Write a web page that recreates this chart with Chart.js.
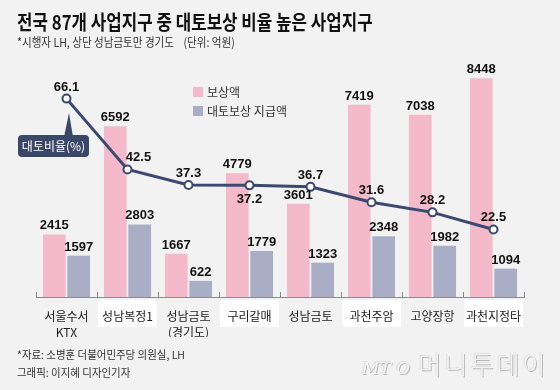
<!DOCTYPE html>
<html>
<head>
<meta charset="utf-8">
<script src="https://cdn.jsdelivr.net/npm/chart.js@4.4.0/dist/chart.umd.min.js"></script>
<style>
  html, body { margin: 0; padding: 0; }
  body { width: 560px; height: 390px; background: #f2f2f2; position: relative; overflow: hidden;
         font-family: "Noto Sans CJK KR", sans-serif; }
  #c { position: absolute; left: 0; top: 0; }
  .txt { position: absolute; white-space: pre; transform-origin: left top; }
  #title { left: 17px; top: 11px; font-size: 20px; line-height: 22px; font-weight: 700; color: #111; transform: scaleX(0.84); }
  #sub { left: 17px; top: 35px; font-size: 12px; line-height: 14px; color: #333; transform: scaleX(0.88); }
  #src1 { left: 17px; top: 348px; font-size: 11px; line-height: 13px; color: #333; transform: scaleX(0.95); }
  #src2 { left: 17px; top: 366px; font-size: 11px; line-height: 13px; color: #333; transform: scaleX(0.95); }
  #logo { left: 362px; top: 348px; font-size: 25px; line-height: 30px; color: #f4f4f4; font-weight: 300;
          letter-spacing: 3px; text-shadow: 1px 1px 0 #b8b8b8, -1px -1px 0 #e0e0e0; }
  #logo i { font-family: "DejaVu Serif", serif; font-size: 17px; letter-spacing: 0; }
</style>
</head>
<body>
<canvas id="c" width="560" height="390"></canvas>
<div class="txt" id="title">전국 87개 사업지구 중 대토보상 비율 높은 사업지구</div>
<div class="txt" id="sub">*시행자 LH, 상단 성남금토만 경기도    (단위: 억원)</div>
<div class="txt" id="src1">*자료: 소병훈 더불어민주당 의원실, LH</div>
<div class="txt" id="src2">그래픽: 이지혜 디자인기자</div>
<div class="txt" id="logo"><i>MT O</i> 머니투데이</div>
<script>
// 사업지구
const categories = [['서울수서', 'KTX'], '성남복정1', ['성남금토', '(경기도)'], '구리갈매', '성남금토', '과천주암', '고양장항', '과천지정타'];
// 보상액 (억원)
const compensation = [2415, 6592, 1667, 4779, 3601, 7419, 7038, 8448];
// 대토보상 지급액 (억원)
const landPaid = [1597, 2803, 622, 1779, 1323, 2348, 1982, 1094];
// 대토비율 (%)
const landRatio = [66.1, 42.5, 37.3, 37.2, 36.7, 31.6, 28.2, 22.5];

const pink = '#f4b9ca';
const grey = '#a9adc6';
const navy = '#3b4970';
const numFont = 'bold 13px "Liberation Sans Narrow", "Liberation Sans", Arial, sans-serif';
const ratioLabelPos = ['top', 'right', 'top', 'bottom', 'top', 'top', 'top', 'top'];

// white boxes behind every second category label
const labelBoxes = {
  id: 'labelBoxes',
  beforeDraw(chart) {
    const ctx = chart.ctx, area = chart.chartArea;
    const w = (area.right - area.left) / categories.length;
    ctx.save();
    ctx.fillStyle = '#ffffff';
    for (let i = 1; i < categories.length; i += 2) {
      ctx.fillRect(area.left + i * w + 1, area.bottom + 3, w - 2, 27);
    }
    ctx.restore();
  }
};

const valueLabels = {
  id: 'valueLabels',
  afterDatasetsDraw(chart) {
    const ctx = chart.ctx, area = chart.chartArea;
    ctx.save();
    // small ticks on the axis
    const w = (area.right - area.left) / categories.length;
    ctx.strokeStyle = '#8a8a8a';
    ctx.lineWidth = 1;
    for (let i = 0; i <= categories.length; i++) {
      const x = Math.round(area.left + i * w) + 0.5;
      ctx.beginPath();
      ctx.moveTo(x, area.bottom - 5);
      ctx.lineTo(x, area.bottom);
      ctx.stroke();
    }

    ctx.font = numFont;
    ctx.fillStyle = '#111';
    ctx.textAlign = 'center';
    ctx.textBaseline = 'alphabetic';
    [0, 1].forEach(di => {
      const vals = chart.data.datasets[di].data;
      chart.getDatasetMeta(di).data.forEach((bar, i) => {
        ctx.fillText(String(vals[i]), bar.x, bar.y - 5);
      });
    });
    chart.getDatasetMeta(2).data.forEach((pt, i) => {
      let x = pt.x, y = pt.y - 8;
      if (ratioLabelPos[i] === 'right') x += 11;
      if (ratioLabelPos[i] === 'bottom') y = pt.y + 18;
      ctx.fillText(landRatio[i].toFixed(1), x, y);
    });
    ctx.restore();
  },
  afterDraw(chart) {
    const ctx = chart.ctx;
    ctx.save();
    // legend
    ctx.font = '12px "Noto Sans CJK KR", sans-serif';
    ctx.textBaseline = 'middle';
    ctx.textAlign = 'left';
    ctx.fillStyle = pink;
    ctx.fillRect(193, 87, 10, 10);
    ctx.fillStyle = grey;
    ctx.fillRect(193, 106, 10, 10);
    ctx.fillStyle = '#333';
    ctx.fillText(chart.data.datasets[0].label, 207, 92);
    ctx.fillText(chart.data.datasets[1].label, 207, 111);

    // callout for the ratio line
    ctx.fillStyle = '#3a4767';
    ctx.beginPath();
    ctx.moveTo(64, 137);
    ctx.lineTo(69, 113);
    ctx.lineTo(73, 137);
    ctx.closePath();
    ctx.fill();
    ctx.beginPath();
    ctx.roundRect(18, 135, 71, 22, 4);
    ctx.fill();
    ctx.fillStyle = '#fff';
    ctx.textAlign = 'center';
    ctx.fillText(chart.data.datasets[2].label, 53.5, 146.5);
    ctx.restore();
  }
};

new Chart(document.getElementById('c'), {
  type: 'bar',
  data: {
    labels: categories,
    datasets: [
      { label: '보상액', data: compensation, backgroundColor: pink, yAxisID: 'y', order: 1,
        categoryPercentage: 0.8, barPercentage: 0.93 },
      { label: '대토보상 지급액', data: landPaid, backgroundColor: grey, yAxisID: 'y', order: 1,
        categoryPercentage: 0.8, barPercentage: 0.93 },
      { type: 'line', label: '대토비율(%)', data: landRatio, yAxisID: 'y2', order: 0,
        borderColor: navy, borderWidth: 3, tension: 0,
        pointRadius: 4, pointBorderWidth: 2, pointBackgroundColor: '#fff', pointBorderColor: navy }
    ]
  },
  options: {
    responsive: false,
    animation: false,
    layout: { padding: { left: 36, right: 36, top: 50, bottom: 53 } },
    plugins: { legend: { display: false }, tooltip: { enabled: false } },
    scales: {
      x: {
        grid: { display: false, drawTicks: false },
        border: { display: true, color: '#8a8a8a', width: 1 },
        ticks: { color: '#222', padding: 11, maxRotation: 0, autoSkip: false,
                 font: { family: '"Noto Sans CJK KR", sans-serif', size: 12, lineHeight: 1.35 } },
        afterFit: s => { s.height = 40; }
      },
      y: { display: false, min: 0, max: 9537 },
      y2: { display: false, min: 0, max: 82.3, position: 'right' }
    }
  },
  plugins: [labelBoxes, valueLabels]
});
</script>
</body>
</html>
